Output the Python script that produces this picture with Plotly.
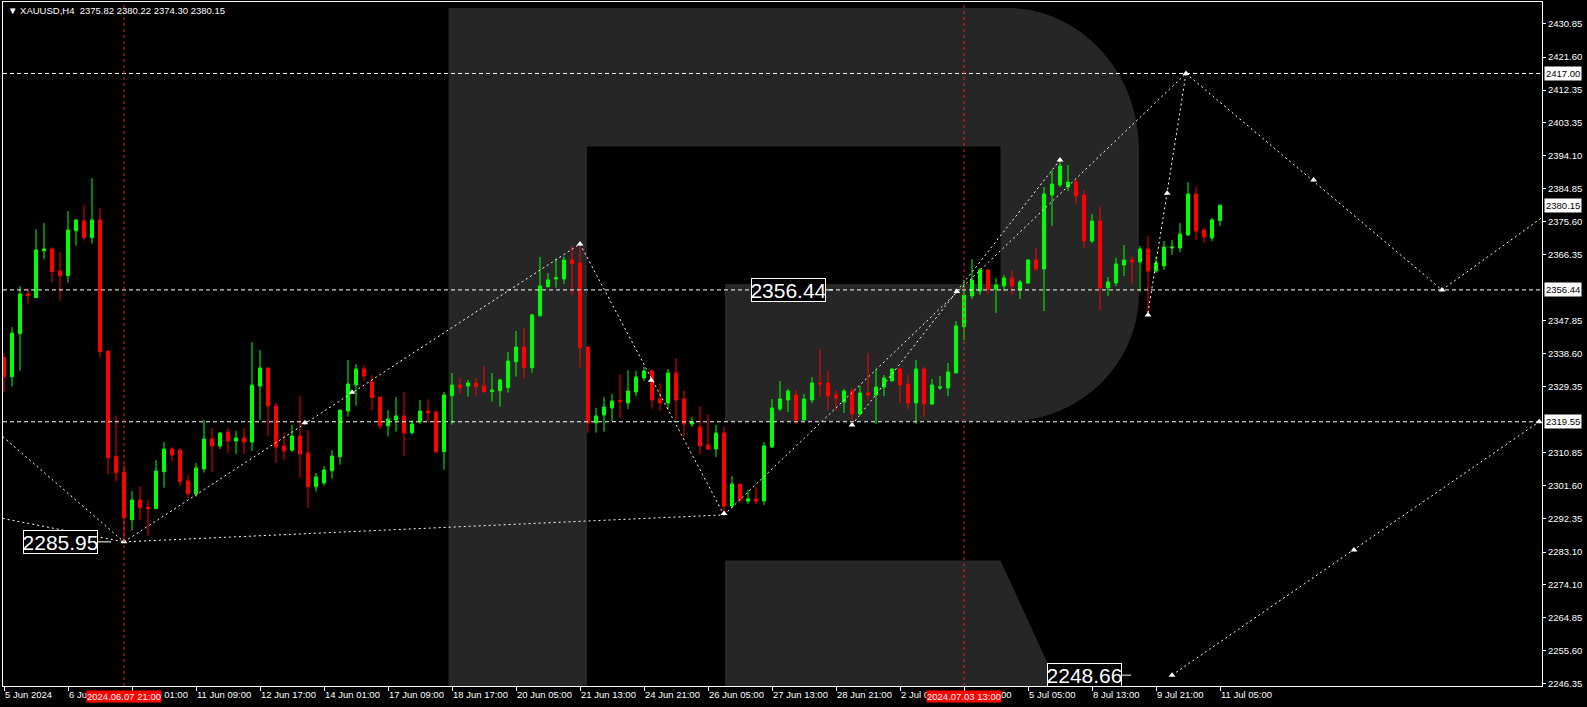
import plotly.graph_objects as go

# ---------------- data ----------------
open_ = [2337.49, 2332.17, 2344.20, 2355.30, 2354.28, 2367.43, 2367.90, 2361.74, 2360.43, 2373.02,
         2375.73, 2371.07, 2376.01, 2339.35, 2309.79, 2305.50, 2292.16, 2297.66, 2295.70, 2295.24,
         2305.59, 2311.93, 2311.65, 2302.98, 2299.43, 2306.34, 2314.73, 2312.77, 2316.69, 2314.17,
         2315.01, 2313.89, 2329.56, 2334.60, 2323.96, 2312.77, 2311.65, 2315.57, 2310.81, 2301.39,
         2302.42, 2305.87, 2309.79, 2322.56, 2329.84, 2334.32, 2330.68, 2326.48, 2318.46, 2320.05,
         2321.17, 2316.50, 2319.58, 2322.56, 2322.28, 2311.19, 2326.85, 2329.84, 2329.56, 2330.40,
         2329.56, 2327.97, 2328.25, 2329.09, 2336.37, 2340.47, 2334.69, 2349.24, 2357.35, 2359.50,
         2359.50, 2364.82, 2363.98, 2340.47, 2319.30, 2321.45, 2323.41, 2325.46, 2324.80, 2327.88,
         2331.80, 2333.76, 2325.92, 2324.80, 2333.20, 2325.92, 2318.93, 2318.09, 2313.05, 2311.93,
         2316.41, 2295.98, 2302.14, 2297.38, 2297.94, 2297.38, 2312.49, 2323.13, 2325.64, 2327.04,
         2320.05, 2325.64, 2330.40, 2330.40, 2327.04, 2325.08, 2328.16, 2321.73, 2327.60, 2327.04,
         2329.28, 2330.96, 2334.32, 2330.12, 2324.80, 2334.31, 2324.52, 2329.00, 2329.00, 2333.20,
         2346.16, 2354.74, 2356.14, 2362.02, 2356.70, 2357.54, 2359.78, 2356.51, 2358.38, 2364.82,
         2362.30, 2383.00, 2385.80, 2385.24, 2386.64, 2383.00, 2370.13, 2375.73, 2356.98, 2358.38,
         2363.42, 2364.82, 2364.26, 2367.89, 2361.74, 2363.14, 2368.17, 2368.17, 2371.81, 2383.28,
         2373.21, 2370.97, 2375.82]
high_ = [2338.70, 2345.98, 2357.54, 2356.80, 2373.40, 2375.17, 2368.36, 2367.06, 2378.53, 2376.29,
         2380.21, 2387.76, 2379.37, 2339.35, 2321.35, 2307.46, 2300.18, 2301.58, 2297.66, 2308.86,
         2313.89, 2312.49, 2312.21, 2304.66, 2308.02, 2320.05, 2317.90, 2316.69, 2317.90, 2316.97,
         2317.90, 2341.87, 2339.63, 2334.60, 2324.80, 2316.41, 2318.65, 2326.76, 2317.25, 2305.22,
         2307.17, 2311.65, 2322.84, 2336.83, 2335.72, 2335.44, 2332.64, 2326.48, 2322.84, 2326.48,
         2327.88, 2320.05, 2325.64, 2325.92, 2322.84, 2327.88, 2333.20, 2331.80, 2331.24, 2331.80,
         2335.25, 2333.20, 2331.61, 2339.07, 2344.95, 2345.79, 2349.80, 2365.66, 2361.18, 2365.19,
         2365.75, 2368.83, 2369.29, 2340.47, 2323.40, 2326.48, 2327.32, 2332.92, 2334.04, 2333.76,
         2334.87, 2334.32, 2330.40, 2334.32, 2337.40, 2328.44, 2320.89, 2323.96, 2321.73, 2318.65,
         2318.09, 2304.38, 2302.14, 2300.46, 2301.30, 2313.89, 2325.92, 2330.96, 2328.72, 2328.44,
         2327.32, 2332.08, 2339.91, 2333.76, 2328.44, 2328.72, 2329.00, 2329.56, 2338.79, 2334.32,
         2332.64, 2334.32, 2334.60, 2332.64, 2336.83, 2334.88, 2331.52, 2332.36, 2335.99, 2347.75,
         2359.22, 2365.10, 2362.58, 2362.30, 2359.78, 2360.62, 2362.02, 2359.22, 2365.10, 2368.17,
         2385.24, 2390.00, 2392.52, 2391.40, 2387.48, 2384.40, 2377.69, 2379.65, 2360.06, 2365.38,
         2369.01, 2365.66, 2368.73, 2371.53, 2365.66, 2370.13, 2370.41, 2375.17, 2386.64, 2385.24,
         2373.77, 2376.57, 2380.22]
low_ = [2327.98, 2329.37, 2333.85, 2352.60, 2354.28, 2365.10, 2358.47, 2353.44, 2358.47, 2368.83,
        2370.23, 2369.39, 2337.49, 2304.75, 2302.79, 2285.95, 2289.08, 2292.16, 2287.68, 2295.24,
        2301.11, 2308.39, 2301.67, 2298.04, 2298.60, 2305.31, 2305.59, 2311.93, 2310.81, 2310.53,
        2310.53, 2311.37, 2320.05, 2315.57, 2308.02, 2308.86, 2311.09, 2303.91, 2295.52, 2299.99,
        2301.67, 2303.63, 2307.55, 2320.98, 2324.06, 2331.05, 2322.66, 2317.62, 2315.38, 2316.78,
        2310.07, 2315.94, 2318.93, 2319.30, 2310.63, 2306.15, 2318.74, 2327.32, 2326.58, 2326.85,
        2327.69, 2325.18, 2323.78, 2327.69, 2332.17, 2331.61, 2333.29, 2348.96, 2357.35, 2357.07,
        2358.10, 2355.12, 2334.69, 2316.50, 2316.50, 2316.78, 2319.77, 2320.61, 2323.13, 2326.76,
        2330.96, 2323.13, 2322.57, 2322.85, 2320.05, 2315.29, 2318.09, 2310.53, 2311.65, 2309.69,
        2293.47, 2295.42, 2296.82, 2296.54, 2296.54, 2296.26, 2312.21, 2322.57, 2322.29, 2318.93,
        2320.05, 2324.80, 2326.48, 2322.85, 2322.85, 2322.01, 2320.05, 2321.45, 2325.37, 2318.93,
        2326.76, 2330.96, 2324.80, 2323.13, 2318.98, 2320.88, 2324.24, 2328.44, 2326.76, 2333.20,
        2342.43, 2353.90, 2355.02, 2355.30, 2349.99, 2356.14, 2355.02, 2353.90, 2358.10, 2361.74,
        2350.54, 2374.33, 2385.24, 2384.12, 2380.48, 2368.17, 2369.57, 2350.83, 2354.74, 2357.54,
        2360.34, 2358.10, 2355.86, 2350.27, 2361.18, 2362.02, 2366.21, 2367.05, 2371.53, 2370.41,
        2369.57, 2370.13, 2374.30]
close_ = [2332.17, 2344.39, 2355.30, 2354.84, 2367.62, 2367.90, 2361.55, 2360.43, 2373.21, 2376.01,
          2371.07, 2376.01, 2339.17, 2309.51, 2305.31, 2292.72, 2297.66, 2295.52, 2295.24, 2305.78,
          2311.93, 2310.25, 2302.79, 2299.43, 2306.62, 2314.73, 2312.77, 2316.41, 2314.17, 2315.01,
          2313.89, 2329.84, 2334.60, 2323.96, 2312.49, 2311.37, 2315.57, 2310.53, 2301.39, 2304.10,
          2306.06, 2309.97, 2322.84, 2330.12, 2334.32, 2332.36, 2326.29, 2318.46, 2320.33, 2321.17,
          2316.50, 2318.93, 2322.56, 2322.00, 2311.19, 2327.04, 2329.84, 2329.09, 2330.40, 2329.37,
          2327.97, 2328.44, 2331.24, 2336.55, 2340.47, 2334.69, 2349.43, 2357.54, 2359.22, 2359.87,
          2364.82, 2363.79, 2340.29, 2319.30, 2321.17, 2323.68, 2325.37, 2325.18, 2328.16, 2332.08,
          2333.76, 2325.64, 2324.80, 2333.20, 2325.64, 2318.93, 2319.49, 2312.77, 2311.93, 2316.41,
          2295.98, 2302.14, 2297.66, 2297.94, 2297.38, 2312.77, 2323.41, 2325.92, 2328.16, 2320.05,
          2325.92, 2330.40, 2330.12, 2326.76, 2326.20, 2328.16, 2321.73, 2327.60, 2327.04, 2329.28,
          2331.80, 2334.32, 2329.84, 2324.80, 2334.31, 2324.52, 2329.84, 2329.28, 2333.48, 2346.35,
          2355.02, 2359.22, 2362.02, 2356.70, 2357.82, 2359.78, 2357.54, 2358.66, 2364.82, 2362.30,
          2383.28, 2386.08, 2391.12, 2386.64, 2382.72, 2370.13, 2375.73, 2356.98, 2358.66, 2363.70,
          2364.82, 2364.26, 2367.89, 2361.74, 2363.98, 2368.45, 2368.45, 2372.09, 2383.28, 2372.93,
          2371.25, 2376.01, 2380.15]
bar_index = list(range(len(open_)))

# time axis: one label every 8 bars
tick_bars = [0, 8, 16, 24, 32, 40, 48, 56, 64, 72, 80, 88, 96, 104, 112, 120, 128, 136, 144, 152]
tick_labels = ["5 Jun 2024", "6 Jun 17:00", "10 Jun 01:00", "11 Jun 09:00", "12 Jun 17:00",
               "14 Jun 01:00", "17 Jun 09:00", "18 Jun 17:00", "20 Jun 05:00", "21 Jun 13:00",
               "24 Jun 21:00", "26 Jun 05:00", "27 Jun 13:00", "28 Jun 21:00", "2 Jul 05:00",
               "3 Jul 13:00", "5 Jul 05:00", "8 Jul 13:00", "9 Jul 21:00", "11 Jul 05:00"]

price_ticks = [2430.85, 2421.60, 2412.35, 2403.35, 2394.10, 2384.85, 2375.60, 2366.35, 2347.85,
               2338.60, 2329.35, 2310.85, 2301.60, 2292.35, 2283.10, 2274.10, 2264.85, 2255.60, 2246.35]

level_prices = [2417.00, 2356.44, 2319.55]
current_price = 2380.15
header_text = "XAUUSD,H4  2375.82 2380.22 2374.30 2380.15"

# red time markers
vline_bars = [15, 120]
vline_text = ["2024.06.07 21:00", "2024.07.03 13:00"]

# wave / forecast lines (bar, price) -> (bar, price)
seg_x0 = [-0.16, -0.16, 15, 15, 72, 90, 106, 143, 147.75, 179.75, 146]
seg_p0 = [2315.4, 2292.5, 2285.95, 2285.95, 2369.29, 2293.5, 2318.65, 2350.0, 2417.0, 2356.44, 2248.66]
seg_x1 = [15, 15, 90, 72, 90, 147.75, 132, 147.75, 179.75, 193, 191.9]
seg_p1 = [2285.95, 2285.95, 2293.5, 2369.29, 2293.5, 2417.0, 2392.8, 2417.0, 2356.44, 2377.9, 2319.55]

# small arrow marks
mark_bar = [15, 37.6, 43.5, 72, 80.9, 90, 106, 119.1, 132, 143, 145.4, 147.75, 163.7, 179.75, 146, 168.75, 191.9]
mark_price = [2285.95, 2319.3, 2327.8, 2369.29, 2331.2, 2293.9, 2318.65, 2356.0, 2392.8, 2349.4, 2383.5,
              2417.0, 2387.2, 2356.44, 2248.66, 2283.7, 2319.55]

# boxed price labels
label_text = ["2285.95", "2356.44", "2248.66"]
label_bar = [7.0, 98.05, 135.0]
label_price = [2285.95, 2356.44, 2248.66]
stub_x0 = [11.75, 102.7, 139.6]
stub_x1 = [13.4, 103.6, 140.9]

# ---------------- geometry helpers ----------------
W, H = 1587, 707
ML, MR, MT, MB = 3, 45, 2, 21
PW, PH = W - ML - MR, H - MT - MB


def pxx(px):
    return (px - ML) / PW


def pxy(py):
    return (H - MB - py) / PH


GREEN = "#00FF00"
RED = "#FF0000"
WM = "rgb(38,38,38)"
FONT = "Liberation Sans"

fig = go.Figure()

fig.add_trace(go.Candlestick(
    x=bar_index, open=open_, high=high_, low=low_, close=close_,
    increasing=dict(line=dict(color=GREEN, width=1), fillcolor=GREEN),
    decreasing=dict(line=dict(color=RED, width=1), fillcolor=RED),
    whiskerwidth=0, hoverinfo="skip", showlegend=False,
))

# trend / forecast lines
for x0, p0, x1, p1 in zip(seg_x0, seg_p0, seg_x1, seg_p1):
    fig.add_trace(go.Scatter(x=[x0, x1], y=[p0, p1], mode="lines",
                             line=dict(color="white", width=1, dash="2px,3px"),
                             hoverinfo="skip", showlegend=False))

# label stubs
for x0, x1, p in zip(stub_x0, stub_x1, label_price):
    fig.add_trace(go.Scatter(x=[x0, x1], y=[p, p], mode="lines",
                             line=dict(color="white", width=1),
                             hoverinfo="skip", showlegend=False))

fig.add_trace(go.Scatter(x=mark_bar, y=mark_price, mode="markers",
                         marker=dict(symbol="triangle-up", size=6, color="white"),
                         hoverinfo="skip", showlegend=False, cliponaxis=False))

shapes = []


def P(x, y):
    return f"{pxx(x):.5f},{pxy(y):.5f}"


# watermark "R"
r_outer = ("M " + P(448.5, 686) + " L " + P(448.5, 8) + " L " + P(1007, 8) +
           " C " + P(1080, 8) + " " + P(1139, 72) + " " + P(1139, 149) +
           " L " + P(1139, 293) +
           " C " + P(1139, 364) + " " + P(1080, 421.5) + " " + P(1007, 421.5) +
           " L " + P(725, 421.5) + " L " + P(725, 284) + " L " + P(1000.5, 284) +
           " L " + P(1000.5, 146.5) + " L " + P(587, 146.5) + " L " + P(587, 686) + " Z")
r_leg = ("M " + P(725, 560.4) + " L " + P(1000.5, 560.4) + " L " + P(1058, 686) +
         " L " + P(725, 686) + " Z")
for pth in (r_outer, r_leg):
    shapes.append(dict(type="path", path=pth, xref="paper", yref="paper",
                       fillcolor=WM, line=dict(width=0), layer="below"))

for lv in level_prices:
    shapes.append(dict(type="line", xref="paper", x0=0, x1=1, yref="y", y0=lv, y1=lv,
                       line=dict(color="white", width=1, dash="4px,3px"), layer="above"))
for vb in vline_bars:
    shapes.append(dict(type="line", xref="x", x0=vb, x1=vb, yref="paper", y0=0, y1=1,
                       line=dict(color="rgb(230,30,30)", width=1, dash="3px,3px"), layer="above"))

annotations = []
annotations.append(dict(xref="paper", yref="paper", x=pxx(6), y=pxy(10.5), xanchor="left",
                        yanchor="middle", showarrow=False, text="▼ " + header_text,
                        font=dict(family=FONT, size=9.5, color="white")))
for t, b, p in zip(label_text, label_bar, label_price):
    annotations.append(dict(xref="x", yref="y", x=b, y=p, xanchor="center", yanchor="middle",
                            showarrow=False, text=t, bgcolor="black", bordercolor="white",
                            borderwidth=1, borderpad=0, width=73, height=22,
                            font=dict(family=FONT, size=21, color="white")))
for vb, t in zip(vline_bars, vline_text):
    annotations.append(dict(xref="x", yref="paper", x=vb, y=0, yanchor="top", yshift=-4,
                            xanchor="center", showarrow=False, text=t, bgcolor="rgb(255,0,0)",
                            borderpad=0, font=dict(family=FONT, size=9.5, color="white")))
for p in level_prices + [current_price]:
    annotations.append(dict(xref="paper", yref="y", x=1, y=p, xanchor="left", xshift=2,
                            yanchor="middle", showarrow=False, text=f"{p:.2f}",
                            bgcolor="white", borderpad=1,
                            font=dict(family=FONT, size=9.5, color="black")))

fig.update_layout(
    width=W, height=H, autosize=False,
    margin=dict(l=ML, r=MR, t=MT, b=MB, pad=0),
    paper_bgcolor="black", plot_bgcolor="black",
    boxgap=0.45,
    shapes=shapes, annotations=annotations,
    showlegend=False,
    font=dict(family=FONT, color="white", size=9.5),
    xaxis=dict(range=[-0.125, 192.25], rangeslider=dict(visible=False), showgrid=False,
               zeroline=False, showline=True, linecolor="white", linewidth=1, mirror=True,
               tickmode="array", tickvals=tick_bars, ticktext=tick_labels,
               ticks="outside", ticklen=4, tickcolor="white",
               ticklabelposition="outside right",
               tickfont=dict(family=FONT, size=9.5, color="white")),
    yaxis=dict(range=[2245.62, 2437.0], side="right", showgrid=False, zeroline=False,
               showline=True, linecolor="white", linewidth=1, mirror=True,
               tickmode="array", tickvals=price_ticks,
               ticktext=[f"{v:.2f}" for v in price_ticks],
               ticks="outside", ticklen=3, tickcolor="white",
               tickfont=dict(family=FONT, size=9.5, color="white")),
)

fig.write_html("out.html", config={"displayModeBar": False},
               post_script="document.body.style.margin='0';document.body.style.overflow='hidden';")
